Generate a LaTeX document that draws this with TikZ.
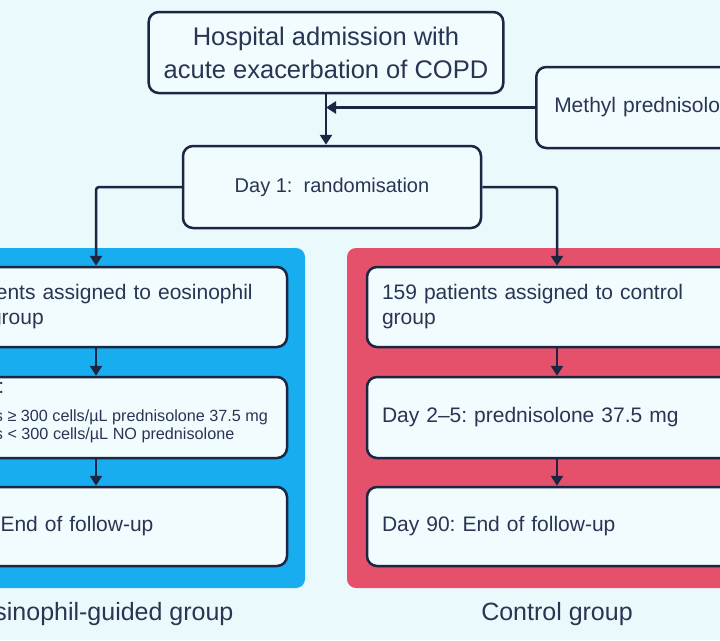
\documentclass[tikz,border=0pt]{standalone}
\usepackage{fontspec}
\setmainfont{Liberation Sans}
\usetikzlibrary{arrows.meta}
\frenchspacing
\definecolor{bgcol}{HTML}{EAF9FC}
\definecolor{boxfill}{HTML}{F1FCFE}
\definecolor{linecol}{HTML}{1C2541}
\definecolor{txtcol}{HTML}{2B3452}
\definecolor{bluepanel}{HTML}{18ADEF}
\definecolor{redpanel}{HTML}{E5506A}
\begin{document}
\begin{tikzpicture}[x=1pt,y=-1pt,
  box/.style={draw=linecol, line width=2.5pt, fill=boxfill, rounded corners=10pt, text=txtcol, inner xsep=15pt, inner ysep=0pt},
  panel/.style={rounded corners=9pt, inner sep=0pt},
  arr/.style={draw=linecol, line width=2.5pt, rounded corners=3pt, -{Triangle[length=10pt,width=12pt]}},
  fbig/.style={font=\fontsize{21}{25}\selectfont},
  fsmall/.style={font=\fontsize{16.2}{18}\selectfont, text=txtcol},
  lbl/.style={font=\fontsize{25}{30}\selectfont, text=txtcol}]
\useasboundingbox (0,0) rectangle (720,640);
\clip (0,0) rectangle (720,640);
\fill[bgcol] (0,0) rectangle (720,640);

% top part
\node[box, minimum width=352pt, minimum height=81pt, align=center, font=\fontsize{25.5}{33}\selectfont] (top) at (326,52.5) {Hospital admission with\\acute exacerbation of COPD};
\node[box, anchor=west, minimum width=300pt, minimum height=81pt, text width=264pt, inner xsep=18pt, align=left, fbig] (methyl) at (535,107.5) {Methyl prednisolone};
\node[box, minimum width=298pt, minimum height=82pt, font=\fontsize{20}{24}\selectfont] (day1) at (332,187) {Day 1:\ \ randomisation\hspace{8pt}};

% panels
\node[panel, fill=bluepanel, minimum width=420pt, minimum height=340pt] (bpanel) at (95,418) {};
\node[panel, fill=redpanel, minimum width=420pt, minimum height=340pt] (rpanel) at (557,418) {};

% left column
\node[box, minimum width=382pt, minimum height=80pt, text width=352pt, align=left, fbig] (lb1) at (96,307) {159 patients assigned to eosinophil\\guided group};
\node[box, minimum width=382pt, minimum height=81pt] (lb2) at (96,417.5) {};
\node[anchor=base west, inner sep=0pt, fbig, text=txtcol] (lb2a) at (-80,393) {Day 2–5:};
\node[anchor=base west, inner sep=0pt, fsmall] (lb2b) at (-80,421) {Eosinophils ≥ 300 cells/µL prednisolone 37.5 mg};
\node[anchor=base west, inner sep=0pt, fsmall] (lb2c) at (-80,439) {Eosinophils < 300 cells/µL NO prednisolone};
\node[box, minimum width=382pt, minimum height=79pt, text width=352pt, align=left, fbig] (lb3) at (96,526.5) {Day 90: End of follow-up};

% right column
\node[box, minimum width=380pt, minimum height=80pt, text width=350pt, align=left, fbig] (rb1) at (557,307) {159 patients assigned to control\\group};
\node[box, minimum width=380pt, minimum height=81pt, text width=350pt, align=left, fbig] (rb2) at (557,417.5) {Day 2–5: prednisolone 37.5 mg};
\node[box, minimum width=380pt, minimum height=79pt, text width=350pt, align=left, fbig] (rb3) at (557,526.5) {Day 90: End of follow-up};

% connectors
\draw[arr] (top.south) -- (top.south |- day1.north);
\draw[arr] (methyl.west) -- (methyl.west -| top.south);
\draw[arr] (day1.west) -| (lb1.north);
\draw[arr] (day1.east) -| (rb1.north);
\draw[arr] (lb1.south) -- (lb2.north);
\draw[arr] (lb2.south) -- (lb3.north);
\draw[arr] (rb1.south) -- (rb2.north);
\draw[arr] (rb2.south) -- (rb3.north);

% labels
\node[anchor=base east, lbl] (blabel) at (237,620) {Eosinophil-guided group};
\node[anchor=base, lbl] (rlabel) at (557,620) {Control group};
\end{tikzpicture}
\end{document}
